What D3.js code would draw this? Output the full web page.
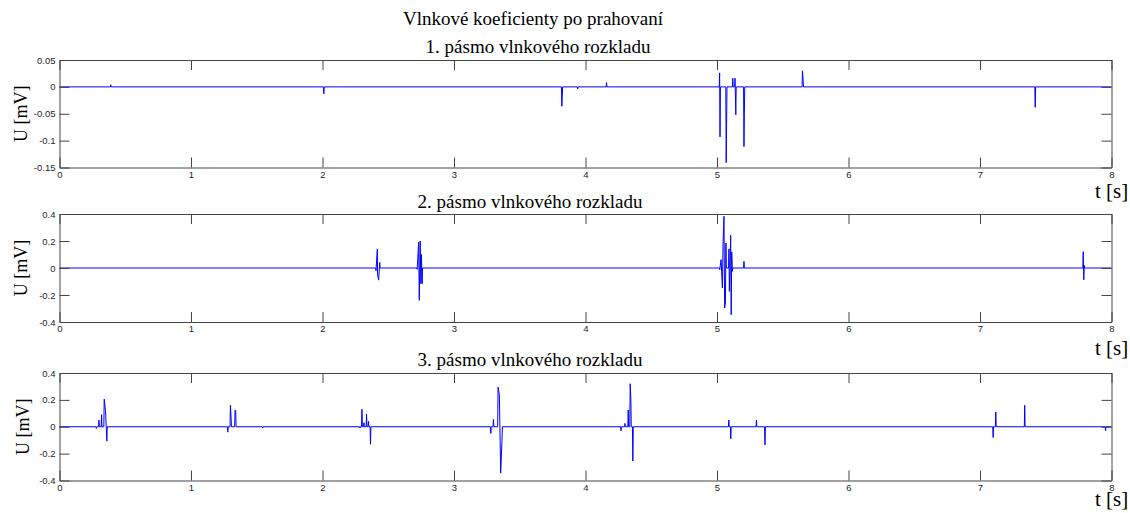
<!DOCTYPE html>
<html>
<head>
<meta charset="utf-8">
<script src="https://cdn.jsdelivr.net/npm/d3@7"></script>
<style>
  html, body { margin: 0; padding: 0; background: #fff; }
  svg { display: block; }
  .tick text { font-family: "Liberation Sans", Arial, sans-serif; font-size: 9.5px; fill: #262626; }
  .serif { font-family: "Liberation Serif", "Times New Roman", serif; fill: #000; }
</style>
</head>
<body>
<svg id="chart" width="1130" height="513"></svg>
<script>
// ---- data ----
const mainTitle = "Vlnkové koeficienty po prahovaní";
const panelTitles = ["1. pásmo vlnkového rozkladu", "2. pásmo vlnkového rozkladu", "3. pásmo vlnkového rozkladu"];
const yLabel = "U [mV]";
const xLabel = "t [s]";

const xTicks = [0, 1, 2, 3, 4, 5, 6, 7, 8];
const xTickLabels = ["0", "1", "2", "3", "4", "5", "6", "7", "8"];

const yTicks1 = [0.05, 0, -0.05, -0.1, -0.15];
const yTickLabels1 = ["0.05", "0", "-0.05", "-0.1", "-0.15"];
const yTicks23 = [0.4, 0.2, 0, -0.2, -0.4];
const yTickLabels23 = ["0.4", "0.2", "0", "-0.2", "-0.4"];

// nonzero coefficient samples (time in s, value in mV); signal is 0 elsewhere
const t1 = [0.39, 2.01, 3.82, 3.823, 3.94, 4.16, 5.02, 5.023, 5.07, 5.073, 5.12, 5.137, 5.143, 5.205, 5.208, 5.65, 5.655, 7.42];
const v1 = [0.004, -0.013, -0.036, -0.02, -0.004, 0.008, 0.026, -0.093, -0.141, -0.07, 0.016, 0.016, -0.052, -0.111, -0.05, 0.03, 0.012, -0.038];

const t2 = [2.407, 2.417, 2.419, 2.427, 2.435,
            2.72, 2.731, 2.736, 2.743, 2.748, 2.752, 2.758,
            5.021, 5.031, 5.041, 5.046, 5.053, 5.058, 5.064, 5.068,
            5.091, 5.094, 5.104, 5.108, 5.112, 5.117,
            5.205,
            7.785, 7.789, 7.793];
const v2 = [-0.02, 0.14, -0.05, -0.09, 0.042,
            -0.01, 0.19, -0.24, 0.2, -0.116, 0.1, -0.116,
            -0.012, 0.062, -0.148, 0.185, 0.383, -0.296, -0.259, 0.185,
            0.141, -0.173, 0.242, -0.346, 0.119, -0.025,
            0.049,
            0.121, -0.087, 0.02];

const t3 = [0.28, 0.30, 0.32, 0.34, 0.35, 0.36,
            1.28, 1.30, 1.305, 1.335, 1.34,
            1.545,
            2.285, 2.30, 2.315, 2.335, 2.35, 2.365,
            3.28, 3.30, 3.335, 3.345, 3.355, 3.365,
            4.27, 4.30, 4.325, 4.34, 4.345, 4.36,
            5.09, 5.105,
            5.30,
            5.365,
            7.10, 7.12,
            7.34,
            7.955];
const v3 = [-0.012, 0.05, 0.09, 0.205, 0.12, -0.107,
            -0.04, 0.16, 0.06, 0.125, 0.12,
            -0.01,
            -0.01, 0.13, 0.03, 0.095, 0.04, -0.13,
            -0.05, 0.055, 0.295, 0.24, -0.345, -0.1,
            -0.03, 0.025, 0.125, 0.32, 0.2, -0.255,
            0.05, -0.09,
            0.05,
            -0.135,
            -0.08, 0.11,
            0.16,
            -0.03];

// ---- layout ----
const svg = d3.select("#chart");
const X0 = 59.5, X1 = 1111.5;
const panels = [
  { top: 60, bottom: 167.5, dom: [-0.15, 0.05], ticks: yTicks1, labels: yTickLabels1, t: t1, v: v1, title: panelTitles[0], titleX: 538, titleY: 53, ylabX: 27, xlabY: 198 },
  { top: 214, bottom: 322, dom: [-0.4, 0.4], ticks: yTicks23, labels: yTickLabels23, t: t2, v: v2, title: panelTitles[1], titleX: 530, titleY: 208, ylabX: 27, xlabY: 355 },
  { top: 373, bottom: 480.5, dom: [-0.4, 0.4], ticks: yTicks23, labels: yTickLabels23, t: t3, v: v3, title: panelTitles[2], titleX: 530, titleY: 366, ylabX: 29, xlabY: 506 }
];

svg.append("text").attr("class", "serif")
  .attr("x", 533).attr("y", 25).attr("text-anchor", "middle")
  .style("font-size", "19px").text(mainTitle);

function buildSeries(ts, vs) {
  const gap = 0.012, eps = 0.003;
  const pts = [[0, 0]];
  for (let i = 0; i < ts.length; i++) {
    const prev = i > 0 ? ts[i - 1] : -1;
    if (ts[i] - prev > gap) pts.push([ts[i] - eps, 0]);
    pts.push([ts[i], vs[i]]);
    const next = i < ts.length - 1 ? ts[i + 1] : 99;
    if (next - ts[i] > gap) pts.push([ts[i] + eps, 0]);
  }
  pts.push([8, 0]);
  return pts;
}

const x = d3.scaleLinear().domain([0, 8]).range([X0, X1]);

panels.forEach(p => {
  const y = d3.scaleLinear().domain(p.dom).range([p.bottom, p.top]);
  const g = svg.append("g");

  // signal
  const line = d3.line().x(d => x(d[0])).y(d => y(d[1]));
  g.append("path")
    .datum(buildSeries(p.t, p.v))
    .attr("fill", "none")
    .attr("stroke", "#0000ff")
    .attr("stroke-width", 1)
    .attr("d", line);

  // axes
  const axB = g.append("g").attr("transform", `translate(0,${p.bottom})`)
    .call(d3.axisBottom(x).tickValues(xTicks).tickFormat((d, i) => xTickLabels[i]).tickSizeInner(-10).tickSizeOuter(0).tickPadding(3.5));
  const axT = g.append("g").attr("transform", `translate(0,${p.top})`)
    .call(d3.axisTop(x).tickValues(xTicks).tickFormat("").tickSizeInner(-10).tickSizeOuter(0));
  const axL = g.append("g").attr("transform", `translate(${X0},0)`)
    .call(d3.axisLeft(y).tickValues(p.ticks).tickFormat((d, i) => p.labels[i]).tickSizeInner(-10).tickSizeOuter(0).tickPadding(4));
  const axR = g.append("g").attr("transform", `translate(${X1},0)`)
    .call(d3.axisRight(y).tickValues(p.ticks).tickFormat("").tickSizeInner(-10).tickSizeOuter(0));
  [axB, axT, axL, axR].forEach(a => {
    a.selectAll(".domain").attr("stroke", "#444").attr("stroke-width", 1);
    a.selectAll(".tick line").attr("stroke", "#444").attr("stroke-width", 1);
  });

  // panel title
  g.append("text").attr("class", "serif")
    .attr("x", p.titleX).attr("y", p.titleY).attr("text-anchor", "middle")
    .style("font-size", "19px").text(p.title);

  // y label
  const cy = (p.top + p.bottom) / 2;
  g.append("text").attr("class", "serif")
    .attr("transform", `translate(${p.ylabX},${cy}) rotate(-90)`)
    .attr("text-anchor", "middle")
    .style("font-size", "18px").text(yLabel);

  // x label
  g.append("text").attr("class", "serif")
    .attr("x", 1095).attr("y", p.xlabY)
    .style("font-size", "21px").text(xLabel);
});
</script>
</body>
</html>
